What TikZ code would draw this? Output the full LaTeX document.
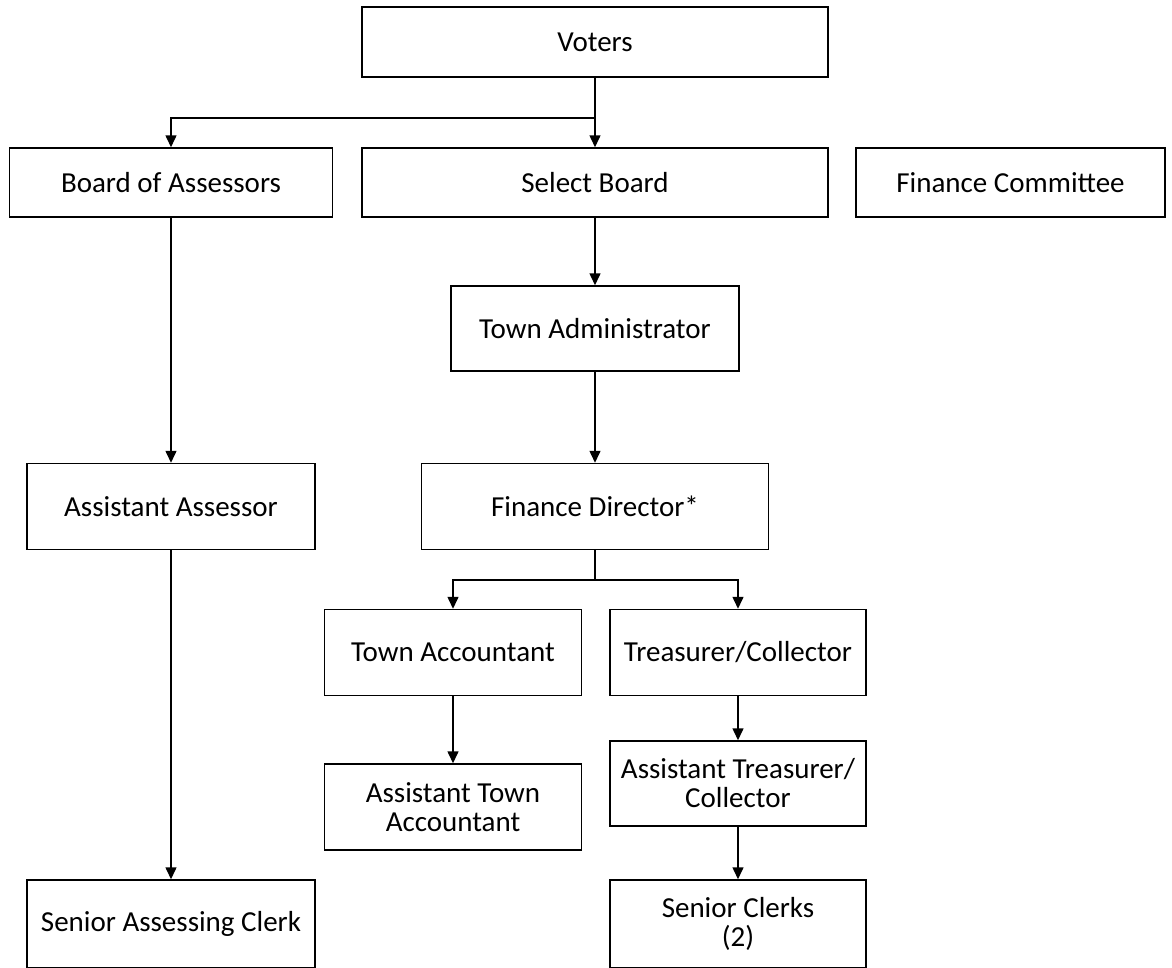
\documentclass[tikz,border=0pt]{standalone}
\usepackage{fontspec}
\setmainfont{Carlito}
\usetikzlibrary{arrows.meta}
\tikzset{
  box/.style={draw, line width=1.5pt, inner sep=0pt, align=center,
    font=\fontsize{29}{29}\selectfont},
  arr/.style={line width=1.5pt, -{Triangle[width=11pt,length=12pt]}},
  ln/.style={line width=1.5pt},
}
\begin{document}
\begin{tikzpicture}[x=1pt,y=-1pt]
\useasboundingbox (0,0) rectangle (1172,967);
\node[box, minimum width=466pt, minimum height=70pt] (voters) at (595,42) {Voters};
\node[box, minimum width=323pt, minimum height=69pt] (boa) at (171,182.5) {Board of Assessors};
\node[box, minimum width=466pt, minimum height=69pt] (sb) at (595,182.5) {Select Board};
\node[box, minimum width=309pt, minimum height=69pt] (fc) at (1010.5,182.5) {Finance Committee};
\node[box, minimum width=288pt, minimum height=85pt] (ta) at (595,328.5) {Town Administrator};
\node[box, minimum width=288pt, minimum height=86pt] (aa) at (171,506.5) {Assistant Assessor};
\node[box, minimum width=347pt, minimum height=86pt] (fd) at (595,506.5) {Finance Director*};
\node[box, minimum width=257pt, minimum height=86pt] (tacc) at (453,652.5) {Town Accountant};
\node[box, minimum width=256pt, minimum height=86pt] (tr) at (738,652.5) {Treasurer/Collector};
\node[box, minimum width=257pt, minimum height=86pt] (ata) at (453,807) {Assistant Town\\Accountant};
\node[box, minimum width=256pt, minimum height=85pt] (atc) at (738,783.5) {Assistant Treasurer/\\Collector};
\node[box, minimum width=288pt, minimum height=88pt] (sac) at (171,924) {Senior Assessing Clerk};
\node[box, minimum width=256pt, minimum height=88pt] (sc) at (738,924) {Senior Clerks\\(2)};
\coordinate (j1) at (595,118);
\coordinate (j2) at (595,580);
\draw[ln] (voters.south) -- (j1);
\draw[arr] (j1) -- (sb.north);
\draw[arr] (j1) -| (boa.north);
\draw[arr] (sb.south) -- (sb.south |- ta.north);
\draw[arr] (ta.south) -- (ta.south |- fd.north);
\draw[ln] (fd.south) -- (j2);
\draw[arr] (j2) -| (tacc.north);
\draw[arr] (j2) -| (tr.north);
\draw[arr] (boa.south) -- (boa.south |- aa.north);
\draw[arr] (aa.south) -- (sac.north);
\draw[arr] (tacc.south) -- (ata.north);
\draw[arr] (tr.south) -- (atc.north);
\draw[arr] (atc.south) -- (sc.north);
\end{tikzpicture}
\end{document}
